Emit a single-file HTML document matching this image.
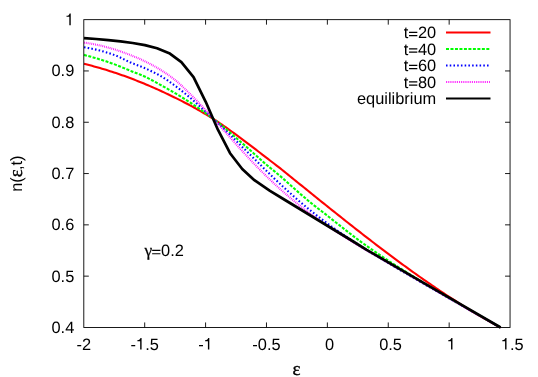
<!DOCTYPE html>
<html><head><meta charset="utf-8"><title>plot</title>
<style>
html,body{margin:0;padding:0;background:#fff;}
body{width:538px;height:377px;overflow:hidden;}
svg{display:block;will-change:transform;}
text{text-rendering:geometricPrecision;font-family:"Liberation Sans",sans-serif;font-size:16.40px;fill:#000;}
.sym{font-family:"Liberation Serif",serif;}
.eps{font-family:"Liberation Serif",serif;font-size:19px;stroke:#000;stroke-width:0.35px;}
.gam{font-family:"Liberation Serif",serif;font-size:17.5px;stroke:#000;stroke-width:0.25px;}
</style></head><body>
<svg width="538" height="377" viewBox="0 0 538 377">
<rect x="0" y="0" width="538" height="377" fill="#fff"/>
<g fill="none" stroke-linejoin="round" stroke-linecap="butt">
<path d="M84.00 63.80 L86.00 64.30 L88.00 64.80 L90.00 65.32 L92.00 65.85 L94.00 66.39 L96.00 66.95 L98.00 67.51 L100.00 68.08 L102.00 68.66 L104.00 69.26 L106.00 69.87 L108.00 70.50 L110.00 71.13 L112.00 71.78 L114.00 72.43 L116.00 73.09 L118.00 73.77 L120.00 74.46 L122.00 75.15 L124.00 75.86 L126.00 76.59 L128.00 77.32 L130.00 78.06 L132.00 78.81 L134.00 79.58 L136.00 80.36 L138.00 81.15 L140.00 81.95 L142.00 82.76 L144.00 83.59 L146.00 84.42 L148.00 85.26 L150.00 86.12 L152.00 86.99 L154.00 87.87 L156.00 88.76 L158.00 89.65 L160.00 90.56 L162.00 91.48 L164.00 92.40 L166.00 93.34 L168.00 94.29 L170.00 95.25 L172.00 96.21 L174.00 97.19 L176.00 98.17 L178.00 99.17 L180.00 100.17 L182.00 101.18 L184.00 102.21 L186.00 103.24 L188.00 104.29 L190.00 105.36 L192.00 106.44 L194.00 107.54 L196.00 108.65 L198.00 109.78 L200.00 110.92 L202.00 112.07 L204.00 113.24 L206.00 114.43 L208.00 115.64 L210.00 116.87 L212.00 118.12 L214.00 119.39 L216.00 120.66 L218.00 121.96 L220.00 123.29 L222.00 124.65 L224.00 126.04 L226.00 127.45 L228.00 128.87 L230.00 130.31 L232.00 131.75 L234.00 133.20 L236.00 134.66 L238.00 136.12 L240.00 137.59 L242.00 139.07 L244.00 140.57 L246.00 142.06 L248.00 143.57 L250.00 145.08 L252.00 146.60 L254.00 148.14 L256.00 149.68 L258.00 151.23 L260.00 152.78 L262.00 154.33 L264.00 155.88 L266.00 157.42 L268.00 158.95 L270.00 160.48 L272.00 162.00 L274.00 163.53 L276.00 165.07 L278.00 166.62 L280.00 168.18 L282.00 169.76 L284.00 171.36 L286.00 172.98 L288.00 174.60 L290.00 176.22 L292.00 177.85 L294.00 179.47 L296.00 181.09 L298.00 182.70 L300.00 184.32 L302.00 185.94 L304.00 187.55 L306.00 189.17 L308.00 190.79 L310.00 192.40 L312.00 194.01 L314.00 195.62 L316.00 197.24 L318.00 198.85 L320.00 200.46 L322.00 202.06 L324.00 203.67 L326.00 205.27 L328.00 206.87 L330.00 208.47 L332.00 210.07 L334.00 211.67 L336.00 213.26 L338.00 214.85 L340.00 216.44 L342.00 218.03 L344.00 219.61 L346.00 221.20 L348.00 222.78 L350.00 224.36 L352.00 225.93 L354.00 227.51 L356.00 229.07 L358.00 230.64 L360.00 232.20 L362.00 233.76 L364.00 235.31 L366.00 236.86 L368.00 238.41 L370.00 239.95 L372.00 241.49 L374.00 243.03 L376.00 244.56 L378.00 246.09 L380.00 247.61 L382.00 249.13 L384.00 250.65 L386.00 252.15 L388.00 253.66 L390.00 255.16 L392.00 256.65 L394.00 258.14 L396.00 259.63 L398.00 261.11 L400.00 262.58 L402.00 264.05 L404.00 265.51 L406.00 266.97 L408.00 268.42 L410.00 269.86 L412.00 271.30 L414.00 272.74 L416.00 274.16 L418.00 275.58 L420.00 277.00 L422.00 278.41 L424.00 279.81 L426.00 281.20 L428.00 282.59 L430.00 283.97 L432.00 285.34 L434.00 286.71 L436.00 288.07 L438.00 289.42 L440.00 290.77 L442.00 292.11 L444.00 293.44 L446.00 294.76 L448.00 296.07 L450.00 297.38 L452.00 298.68 L454.00 299.97 L456.00 301.25 L458.00 302.53 L460.00 303.79 L462.00 305.05 L464.00 306.29 L466.00 307.53 L468.00 308.77 L470.00 309.99 L472.00 311.20 L474.00 312.40 L476.00 313.59 L478.00 314.78 L480.00 315.95 L482.00 317.11 L484.00 318.27 L486.00 319.42 L488.00 320.55 L490.00 321.68 L492.00 322.80 L494.00 323.90 L496.00 325.00 L498.00 326.08 L500.00 327.16 L500.60 327.48" stroke="#ff0000" stroke-width="2.1"/>
<path d="M84.00 54.89 L86.00 55.41 L88.00 55.95 L90.00 56.51 L92.00 57.07 L94.00 57.65 L96.00 58.24 L98.00 58.84 L100.00 59.45 L102.00 60.07 L104.00 60.71 L106.00 61.36 L108.00 62.02 L110.00 62.70 L112.00 63.40 L114.00 64.12 L116.00 64.87 L118.00 65.64 L120.00 66.46 L122.00 67.29 L124.00 68.13 L126.00 68.98 L128.00 69.82 L130.00 70.65 L132.00 71.45 L134.00 72.23 L136.00 73.00 L138.00 73.77 L140.00 74.57 L142.00 75.39 L144.00 76.25 L146.00 77.17 L148.00 78.14 L150.00 79.17 L152.00 80.24 L154.00 81.33 L156.00 82.44 L158.00 83.55 L160.00 84.65 L162.00 85.75 L164.00 86.85 L166.00 87.96 L168.00 89.08 L170.00 90.21 L172.00 91.36 L174.00 92.52 L176.00 93.70 L178.00 94.90 L180.00 96.12 L182.00 97.35 L184.00 98.60 L186.00 99.86 L188.00 101.14 L190.00 102.44 L192.00 103.75 L194.00 105.09 L196.00 106.44 L198.00 107.81 L200.00 109.20 L202.00 110.60 L204.00 112.02 L206.00 113.45 L208.00 114.91 L210.00 116.39 L212.00 117.89 L214.00 119.41 L216.00 120.95 L218.00 122.51 L220.00 124.11 L222.00 125.75 L224.00 127.42 L226.00 129.12 L228.00 130.84 L230.00 132.57 L232.00 134.31 L234.00 136.04 L236.00 137.78 L238.00 139.52 L240.00 141.26 L242.00 143.02 L244.00 144.78 L246.00 146.54 L248.00 148.31 L250.00 150.08 L252.00 151.86 L254.00 153.66 L256.00 155.46 L258.00 157.26 L260.00 159.05 L262.00 160.83 L264.00 162.59 L266.00 164.30 L268.00 165.99 L270.00 167.64 L272.00 169.28 L274.00 170.92 L276.00 172.56 L278.00 174.22 L280.00 175.92 L282.00 177.65 L284.00 179.41 L286.00 181.19 L288.00 182.98 L290.00 184.77 L292.00 186.56 L294.00 188.33 L296.00 190.09 L298.00 191.84 L300.00 193.60 L302.00 195.35 L304.00 197.08 L306.00 198.80 L308.00 200.49 L310.00 202.15 L312.00 203.77 L314.00 205.35 L316.00 206.91 L318.00 208.46 L320.00 209.99 L322.00 211.53 L324.00 213.08 L326.00 214.64 L328.00 216.22 L330.00 217.79 L332.00 219.37 L334.00 220.94 L336.00 222.52 L338.00 224.09 L340.00 225.66 L342.00 227.23 L344.00 228.81 L346.00 230.38 L348.00 231.95 L350.00 233.52 L352.00 235.06 L354.00 236.59 L356.00 238.10 L358.00 239.59 L360.00 241.07 L362.00 242.54 L364.00 243.99 L366.00 245.43 L368.00 246.86 L370.00 248.27 L372.00 249.67 L374.00 251.06 L376.00 252.43 L378.00 253.79 L380.00 255.14 L382.00 256.48 L384.00 257.82 L386.00 259.14 L388.00 260.46 L390.00 261.76 L392.00 263.06 L394.00 264.35 L396.00 265.63 L398.00 266.91 L400.00 268.18 L402.00 269.45 L404.00 270.71 L406.00 271.97 L408.00 273.22 L410.00 274.46 L412.00 275.71 L414.00 276.94 L416.00 278.18 L418.00 279.40 L420.00 280.63 L422.00 281.85 L424.00 283.06 L426.00 284.27 L428.00 285.48 L430.00 286.68 L432.00 287.88 L434.00 289.08 L436.00 290.27 L438.00 291.45 L440.00 292.64 L442.00 293.82 L444.00 295.00 L446.00 296.18 L448.00 297.35 L450.00 298.52 L452.00 299.69 L454.00 300.86 L456.00 302.02 L458.00 303.18 L460.00 304.34 L462.00 305.50 L464.00 306.65 L466.00 307.80 L468.00 308.95 L470.00 310.10 L472.00 311.24 L474.00 312.39 L476.00 313.53 L478.00 314.67 L480.00 315.81 L482.00 316.95 L484.00 318.08 L486.00 319.22 L488.00 320.35 L490.00 321.49 L492.00 322.63 L494.00 323.76 L496.00 324.89 L498.00 326.03 L500.00 327.16 L500.60 327.50" stroke="#00ff00" stroke-width="2.1" stroke-dasharray="3.0 1.48"/>
<path d="M84.00 47.21 L86.00 47.55 L88.00 47.91 L90.00 48.31 L92.00 48.72 L94.00 49.16 L96.00 49.62 L98.00 50.10 L100.00 50.60 L102.00 51.12 L104.00 51.67 L106.00 52.25 L108.00 52.86 L110.00 53.50 L112.00 54.17 L114.00 54.88 L116.00 55.64 L118.00 56.48 L120.00 57.40 L122.00 58.37 L124.00 59.36 L126.00 60.35 L128.00 61.31 L130.00 62.21 L132.00 63.05 L134.00 63.86 L136.00 64.64 L138.00 65.41 L140.00 66.19 L142.00 67.00 L144.00 67.83 L146.00 68.71 L148.00 69.61 L150.00 70.53 L152.00 71.48 L154.00 72.45 L156.00 73.47 L158.00 74.52 L160.00 75.63 L162.00 76.80 L164.00 78.05 L166.00 79.35 L168.00 80.71 L170.00 82.11 L172.00 83.54 L174.00 84.98 L176.00 86.44 L178.00 87.95 L180.00 89.49 L182.00 91.07 L184.00 92.68 L186.00 94.31 L188.00 95.97 L190.00 97.64 L192.00 99.34 L194.00 101.07 L196.00 102.82 L198.00 104.61 L200.00 106.41 L202.00 108.23 L204.00 110.06 L206.00 111.91 L208.00 113.79 L210.00 115.70 L212.00 117.61 L214.00 119.50 L216.00 121.38 L218.00 123.26 L220.00 125.15 L222.00 127.06 L224.00 128.99 L226.00 130.92 L228.00 132.86 L230.00 134.81 L232.00 136.76 L234.00 138.72 L236.00 140.68 L238.00 142.65 L240.00 144.63 L242.00 146.62 L244.00 148.61 L246.00 150.60 L248.00 152.59 L250.00 154.57 L252.00 156.55 L254.00 158.54 L256.00 160.53 L258.00 162.51 L260.00 164.50 L262.00 166.47 L264.00 168.43 L266.00 170.39 L268.00 172.33 L270.00 174.28 L272.00 176.22 L274.00 178.15 L276.00 180.06 L278.00 181.96 L280.00 183.84 L282.00 185.71 L284.00 187.56 L286.00 189.41 L288.00 191.24 L290.00 193.05 L292.00 194.84 L294.00 196.61 L296.00 198.36 L298.00 200.09 L300.00 201.80 L302.00 203.50 L304.00 205.17 L306.00 206.83 L308.00 208.47 L310.00 210.09 L312.00 211.69 L314.00 213.28 L316.00 214.84 L318.00 216.40 L320.00 217.93 L322.00 219.45 L324.00 220.95 L326.00 222.44 L328.00 223.92 L330.00 225.37 L332.00 226.82 L334.00 228.25 L336.00 229.66 L338.00 231.07 L340.00 232.46 L342.00 233.84 L344.00 235.21 L346.00 236.56 L348.00 237.90 L350.00 239.23 L352.00 240.55 L354.00 241.87 L356.00 243.17 L358.00 244.46 L360.00 245.75 L362.00 247.02 L364.00 248.29 L366.00 249.55 L368.00 250.80 L370.00 252.04 L372.00 253.28 L374.00 254.50 L376.00 255.72 L378.00 256.93 L380.00 258.14 L382.00 259.34 L384.00 260.54 L386.00 261.74 L388.00 262.93 L390.00 264.11 L392.00 265.29 L394.00 266.47 L396.00 267.65 L398.00 268.82 L400.00 269.99 L402.00 271.16 L404.00 272.33 L406.00 273.49 L408.00 274.65 L410.00 275.81 L412.00 276.97 L414.00 278.13 L416.00 279.29 L418.00 280.44 L420.00 281.60 L422.00 282.75 L424.00 283.90 L426.00 285.05 L428.00 286.19 L430.00 287.34 L432.00 288.49 L434.00 289.63 L436.00 290.77 L438.00 291.92 L440.00 293.06 L442.00 294.20 L444.00 295.34 L446.00 296.48 L448.00 297.62 L450.00 298.76 L452.00 299.89 L454.00 301.03 L456.00 302.17 L458.00 303.30 L460.00 304.44 L462.00 305.58 L464.00 306.71 L466.00 307.84 L468.00 308.98 L470.00 310.11 L472.00 311.25 L474.00 312.38 L476.00 313.52 L478.00 314.65 L480.00 315.79 L482.00 316.92 L484.00 318.06 L486.00 319.20 L488.00 320.33 L490.00 321.47 L492.00 322.61 L494.00 323.75 L496.00 324.89 L498.00 326.03 L500.00 327.17 L500.60 327.51" stroke="#0000ff" stroke-width="2.1" stroke-dasharray="1.55 2.18"/>
<path d="M84.00 42.62 L86.00 42.89 L88.00 43.19 L90.00 43.51 L92.00 43.86 L94.00 44.23 L96.00 44.63 L98.00 45.04 L100.00 45.46 L102.00 45.91 L104.00 46.40 L106.00 46.93 L108.00 47.48 L110.00 48.06 L112.00 48.65 L114.00 49.26 L116.00 49.88 L118.00 50.53 L120.00 51.20 L122.00 51.90 L124.00 52.62 L126.00 53.36 L128.00 54.12 L130.00 54.89 L132.00 55.68 L134.00 56.49 L136.00 57.32 L138.00 58.17 L140.00 59.05 L142.00 59.95 L144.00 60.88 L146.00 61.84 L148.00 62.84 L150.00 63.86 L152.00 64.91 L154.00 66.00 L156.00 67.13 L158.00 68.29 L160.00 69.49 L162.00 70.73 L164.00 72.01 L166.00 73.34 L168.00 74.72 L170.00 76.14 L172.00 77.62 L174.00 79.15 L176.00 80.75 L178.00 82.44 L180.00 84.22 L182.00 86.07 L184.00 87.97 L186.00 89.91 L188.00 91.87 L190.00 93.83 L192.00 95.81 L194.00 97.84 L196.00 99.89 L198.00 101.98 L200.00 104.10 L202.00 106.23 L204.00 108.39 L206.00 110.56 L208.00 112.79 L210.00 115.06 L212.00 117.32 L214.00 119.56 L216.00 121.76 L218.00 123.97 L220.00 126.18 L222.00 128.41 L224.00 130.65 L226.00 132.91 L228.00 135.16 L230.00 137.41 L232.00 139.66 L234.00 141.89 L236.00 144.11 L238.00 146.33 L240.00 148.55 L242.00 150.76 L244.00 152.96 L246.00 155.15 L248.00 157.31 L250.00 159.44 L252.00 161.55 L254.00 163.64 L256.00 165.72 L258.00 167.77 L260.00 169.81 L262.00 171.82 L264.00 173.81 L266.00 175.77 L268.00 177.71 L270.00 179.63 L272.00 181.53 L274.00 183.41 L276.00 185.27 L278.00 187.10 L280.00 188.91 L282.00 190.70 L284.00 192.47 L286.00 194.21 L288.00 195.94 L290.00 197.64 L292.00 199.33 L294.00 200.99 L296.00 202.63 L298.00 204.24 L300.00 205.84 L302.00 207.42 L304.00 208.98 L306.00 210.52 L308.00 212.04 L310.00 213.54 L312.00 215.02 L314.00 216.49 L316.00 217.94 L318.00 219.37 L320.00 220.78 L322.00 222.19 L324.00 223.57 L326.00 224.94 L328.00 226.30 L330.00 227.64 L332.00 228.97 L334.00 230.29 L336.00 231.59 L338.00 232.89 L340.00 234.17 L342.00 235.44 L344.00 236.70 L346.00 237.95 L348.00 239.19 L350.00 240.42 L352.00 241.64 L354.00 242.85 L356.00 244.06 L358.00 245.26 L360.00 246.45 L362.00 247.64 L364.00 248.81 L366.00 249.98 L368.00 251.15 L370.00 252.32 L372.00 253.48 L374.00 254.64 L376.00 255.79 L378.00 256.94 L380.00 258.09 L382.00 259.24 L384.00 260.39 L386.00 261.53 L388.00 262.68 L390.00 263.83 L392.00 264.97 L394.00 266.12 L396.00 267.27 L398.00 268.42 L400.00 269.57 L402.00 270.73 L404.00 271.89 L406.00 273.05 L408.00 274.21 L410.00 275.37 L412.00 276.54 L414.00 277.71 L416.00 278.87 L418.00 280.05 L420.00 281.22 L422.00 282.39 L424.00 283.57 L426.00 284.75 L428.00 285.92 L430.00 287.10 L432.00 288.28 L434.00 289.46 L436.00 290.63 L438.00 291.81 L440.00 292.99 L442.00 294.17 L444.00 295.34 L446.00 296.52 L448.00 297.69 L450.00 298.86 L452.00 300.03 L454.00 301.20 L456.00 302.37 L458.00 303.53 L460.00 304.69 L462.00 305.85 L464.00 307.00 L466.00 308.16 L468.00 309.31 L470.00 310.46 L472.00 311.60 L474.00 312.74 L476.00 313.88 L478.00 315.01 L480.00 316.14 L482.00 317.27 L484.00 318.39 L486.00 319.51 L488.00 320.62 L490.00 321.73 L492.00 322.83 L494.00 323.93 L496.00 325.02 L498.00 326.10 L500.00 327.18 L500.60 327.50" stroke="#ff00ff" stroke-width="2.1" stroke-dasharray="0.8 1.07"/>
<path d="M84.00 38.20 L96.17 39.00 L108.34 40.10 L120.51 41.40 L132.69 43.00 L144.86 45.10 L157.03 48.30 L169.20 53.20 L181.37 62.20 L193.54 77.05 L205.71 101.80 L217.89 129.70 L230.06 153.20 L242.23 169.00 L254.40 180.20 L270.00 190.80 L285.00 200.00 L350.00 239.50 L366.70 249.80 L430.00 286.70 L450.00 298.20 L500.60 327.50" stroke="#000000" stroke-width="2.7"/>
</g>
<g fill="none" stroke="#000" stroke-width="0.9">
<rect x="83.80" y="19.65" width="426.25" height="307.80"/>
<path d="M144.69 327.45V322.45M144.69 19.65V24.65M205.59 327.45V322.45M205.59 19.65V24.65M266.48 327.45V322.45M266.48 19.65V24.65M327.37 327.45V322.45M327.37 19.65V24.65M388.26 327.45V322.45M388.26 19.65V24.65M449.16 327.45V322.45M449.16 19.65V24.65M83.80 276.15H88.80M510.05 276.15H505.05M83.80 224.85H88.80M510.05 224.85H505.05M83.80 173.55H88.80M510.05 173.55H505.05M83.80 122.25H88.80M510.05 122.25H505.05M83.80 70.95H88.80M510.05 70.95H505.05"/>
</g>
<text x="51.50" y="332.95">0.4</text>
<text x="51.50" y="281.65">0.5</text>
<text x="51.50" y="230.35">0.6</text>
<text x="51.50" y="179.05">0.7</text>
<text x="51.50" y="127.75">0.8</text>
<text x="51.50" y="76.45">0.9</text>
<path d="M339 0H253V505H81V566Q170 570 216 609Q261 648 274 703H339Z" transform="translate(65.18 25.15) scale(0.01640 -0.01640)" fill="#000"/>
<text x="76.51" y="349.60">-2</text>
<text x="130.56" y="349.60">-</text><path d="M339 0H253V505H81V566Q170 570 216 609Q261 648 274 703H339Z" transform="translate(136.03 349.60) scale(0.01640 -0.01640)" fill="#000"/><text x="145.14" y="349.60">.5</text>
<text x="198.30" y="349.60">-</text><path d="M339 0H253V505H81V566Q170 570 216 609Q261 648 274 703H339Z" transform="translate(203.76 349.60) scale(0.01640 -0.01640)" fill="#000"/>
<text x="252.35" y="349.60">-0.5</text>
<text x="325.11" y="349.60">0</text>
<text x="379.17" y="349.60">0.5</text>
<path d="M339 0H253V505H81V566Q170 570 216 609Q261 648 274 703H339Z" transform="translate(446.90 349.60) scale(0.01640 -0.01640)" fill="#000"/>
<path d="M339 0H253V505H81V566Q170 570 216 609Q261 648 274 703H339Z" transform="translate(500.95 349.60) scale(0.01640 -0.01640)" fill="#000"/><text x="510.07" y="349.60">.5</text>
<text x="403.83" y="38.10">t</text><path d="M39 115H545V187H39ZM39 318H545V390H39Z" transform="translate(408.39 38.10) scale(0.01640 -0.01640)" fill="#000"/><text x="417.96" y="38.10">20</text>
<path d="M446 32.50H490.5" fill="none" stroke="#ff0000" stroke-width="2.1"/>
<text x="403.83" y="54.60">t</text><path d="M39 115H545V187H39ZM39 318H545V390H39Z" transform="translate(408.39 54.60) scale(0.01640 -0.01640)" fill="#000"/><text x="417.96" y="54.60">40</text>
<path d="M446 49.00H490.5" fill="none" stroke="#00ff00" stroke-width="2.1" stroke-dasharray="3.0 1.48"/>
<text x="403.83" y="71.10">t</text><path d="M39 115H545V187H39ZM39 318H545V390H39Z" transform="translate(408.39 71.10) scale(0.01640 -0.01640)" fill="#000"/><text x="417.96" y="71.10">60</text>
<path d="M446 65.50H490.5" fill="none" stroke="#0000ff" stroke-width="2.1" stroke-dasharray="1.55 2.18"/>
<text x="403.83" y="87.60">t</text><path d="M39 115H545V187H39ZM39 318H545V390H39Z" transform="translate(408.39 87.60) scale(0.01640 -0.01640)" fill="#000"/><text x="417.96" y="87.60">80</text>
<path d="M446 82.00H490.5" fill="none" stroke="#ff00ff" stroke-width="2.1" stroke-dasharray="0.8 1.07"/>
<text x="436.2" y="104.10" text-anchor="end">equilibrium</text>
<path d="M446 98.50H490.5" fill="none" stroke="#000" stroke-width="2.2"/>
<text x="144.5" y="256.2" class="gam">γ</text>
<path d="M39 115H545V187H39ZM39 318H545V390H39Z" transform="translate(151.50 256.20) scale(0.01640 -0.01640)" fill="#000"/><text x="161.08" y="256.20">0.2</text>
<text x="296.6" y="374.9" text-anchor="middle" class="eps">ε</text>
<text transform="translate(22 173.6) rotate(-90)" text-anchor="middle">n(<tspan class="eps">ε</tspan><tspan dx="-0.8">,t)</tspan></text>
</svg>
</body></html>
